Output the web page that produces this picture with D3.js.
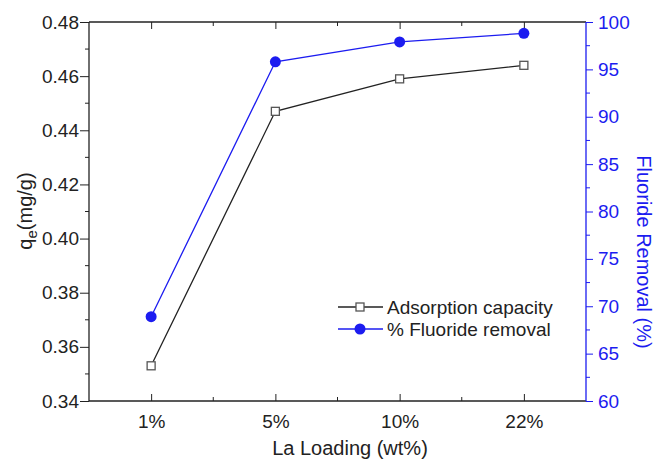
<!DOCTYPE html>
<html>
<head>
<meta charset="utf-8">
<script src="https://cdn.jsdelivr.net/npm/d3@7"></script>
<style>
  body { margin: 0; background: #fff; }
  text { font-family: "Liberation Sans", Arial, sans-serif; }
</style>
</head>
<body>
<div id="chart"></div>
<script>
// categories and series
var loadings = ["1%", "5%", "10%", "22%"];
var capacity = [0.353, 0.447, 0.459, 0.464];      // q_e (mg/g), left axis
var removal = [68.9, 95.8, 97.9, 98.8];           // % fluoride removal, right axis
var leftTicks = [0.34, 0.36, 0.38, 0.40, 0.42, 0.44, 0.46, 0.48];
var rightTicks = [60, 65, 70, 75, 80, 85, 90, 95, 100];

var width = 656, height = 459;
var plot = {left: 89, right: 586, top: 22, bottom: 401};
var blue = "#1c1cf0";
var ink = "#222";
var tickFont = 19, titleFont = 20;

var svg = d3.select("#chart").append("svg")
    .attr("width", width)
    .attr("height", height);

var x = d3.scalePoint()
    .domain(loadings)
    .range([plot.left, plot.right])
    .padding(0.5);
var yL = d3.scaleLinear().domain([0.34, 0.48]).range([plot.bottom, plot.top]);
var yR = d3.scaleLinear().domain([60, 100]).range([plot.bottom, plot.top]);

//minor x ticks sit half way between categories
var xMinor = [];
for (var i = 0; i < loadings.length - 1; i++) {
    xMinor.push((x(loadings[i]) + x(loadings[i + 1])) / 2);
}

//bottom axis, ticks point inward
var gBottom = svg.append("g")
    .attr("transform", "translate(0," + plot.bottom + ")")
    .call(d3.axisBottom(x).tickSize(-7).tickPadding(14));
gBottom.select(".domain").attr("d", "M" + plot.left + ",0H" + plot.right);
gBottom.selectAll(".tick text").attr("font-size", tickFont).attr("fill", ink).attr("dy", "0.71em");
gBottom.selectAll(".tick line").attr("stroke", ink);
gBottom.selectAll(".minor").data(xMinor).enter().append("line")
    .attr("x1", function (d) { return d; }).attr("x2", function (d) { return d; })
    .attr("y1", 0).attr("y2", -4).attr("stroke", ink);

//top axis, no labels
var gTop = svg.append("g")
    .attr("transform", "translate(0," + plot.top + ")")
    .call(d3.axisTop(x).tickSize(-7).tickFormat(""));
gTop.select(".domain").attr("d", "M" + plot.left + ",0H" + plot.right);
gTop.selectAll(".tick line").attr("stroke", ink);
gTop.selectAll(".minor").data(xMinor).enter().append("line")
    .attr("x1", function (d) { return d; }).attr("x2", function (d) { return d; })
    .attr("y1", 0).attr("y2", 4).attr("stroke", ink);

//left axis with outward ticks and minors
var gLeft = svg.append("g")
    .attr("transform", "translate(" + plot.left + ",0)")
    .call(d3.axisLeft(yL).tickValues(leftTicks).tickSize(9).tickPadding(1).tickFormat(d3.format(".2f")));
gLeft.select(".domain").attr("d", "M0," + plot.top + "V" + plot.bottom);
gLeft.selectAll(".tick text").attr("font-size", tickFont).attr("fill", ink);
gLeft.selectAll(".tick line").attr("stroke", ink);
gLeft.selectAll(".minor").data(leftTicks.slice(1)).enter().append("line")
    .attr("y1", function (d) { return yL(d - 0.01); }).attr("y2", function (d) { return yL(d - 0.01); })
    .attr("x1", 0).attr("x2", -4).attr("stroke", ink);

//right axis in blue
var gRight = svg.append("g")
    .attr("transform", "translate(" + plot.right + ",0)")
    .call(d3.axisRight(yR).tickValues(rightTicks).tickSize(7).tickPadding(5));
gRight.select(".domain").attr("d", "M0," + plot.top + "V" + plot.bottom).attr("stroke", blue);
gRight.selectAll(".tick text").attr("font-size", tickFont).attr("fill", blue);
gRight.selectAll(".tick line").attr("stroke", blue);
gRight.selectAll(".minor").data(rightTicks.slice(1)).enter().append("line")
    .attr("y1", function (d) { return yR(d - 2.5); }).attr("y2", function (d) { return yR(d - 2.5); })
    .attr("x1", 0).attr("x2", 4).attr("stroke", blue);

[gBottom, gTop, gLeft].forEach(function (g) { g.select(".domain").attr("stroke", ink); });
svg.selectAll(".domain").attr("stroke-width", 1.3);

//axis titles
svg.append("text")
    .attr("x", 350).attr("y", 455)
    .attr("text-anchor", "middle")
    .attr("font-size", titleFont).attr("fill", ink)
    .text("La Loading (wt%)");

var qTitle = svg.append("text")
    .attr("transform", "translate(32,211) rotate(-90)")
    .attr("text-anchor", "middle")
    .attr("font-size", titleFont).attr("fill", ink);
qTitle.append("tspan").text("q");
qTitle.append("tspan").attr("font-size", 15).attr("dy", 5).text("e");
qTitle.append("tspan").attr("dy", -5).text("(mg/g)");

svg.append("text")
    .attr("transform", "translate(637,252) rotate(90)")
    .attr("text-anchor", "middle")
    .attr("font-size", titleFont).attr("fill", blue)
    .text("Fluoride Removal (%)");

//series lines
var lineL = d3.line()
    .x(function (d, i) { return x(loadings[i]); })
    .y(function (d) { return yL(d); });
var lineR = d3.line()
    .x(function (d, i) { return x(loadings[i]); })
    .y(function (d) { return yR(d); });

svg.append("path").datum(capacity)
    .attr("d", lineL).attr("fill", "none").attr("stroke", ink).attr("stroke-width", 1.3);
svg.append("path").datum(removal)
    .attr("d", lineR).attr("fill", "none").attr("stroke", blue).attr("stroke-width", 1.3);

svg.selectAll(".sq").data(capacity).enter().append("rect")
    .attr("x", function (d, i) { return x(loadings[i]) - 4; })
    .attr("y", function (d) { return yL(d) - 4; })
    .attr("width", 8).attr("height", 8)
    .attr("fill", "#fff").attr("stroke", "#555").attr("stroke-width", 1.3);

svg.selectAll(".dot").data(removal).enter().append("circle")
    .attr("cx", function (d, i) { return x(loadings[i]); })
    .attr("cy", function (d) { return yR(d); })
    .attr("r", 5.5)
    .attr("fill", blue);

//legend
var legend = svg.append("g").attr("font-size", 19);
var legendRows = [
    {label: "Adsorption capacity", color: ink, marker: "square", y: 307},
    {label: "% Fluoride removal", color: blue, marker: "circle", y: 329}
];
legendRows.forEach(function (row) {
    legend.append("line")
        .attr("x1", 338).attr("x2", 383).attr("y1", row.y).attr("y2", row.y)
        .attr("stroke", row.color).attr("stroke-width", 1.3);
    if (row.marker === "square") {
        legend.append("rect")
            .attr("x", 356).attr("y", row.y - 4).attr("width", 8).attr("height", 8)
            .attr("fill", "#fff").attr("stroke", "#555").attr("stroke-width", 1.3);
    } else {
        legend.append("circle").attr("cx", 360).attr("cy", row.y).attr("r", 5.5).attr("fill", row.color);
    }
    legend.append("text")
        .attr("x", 387).attr("y", row.y).attr("dy", "0.35em")
        .attr("fill", ink)
        .text(row.label);
});
</script>
</body>
</html>
